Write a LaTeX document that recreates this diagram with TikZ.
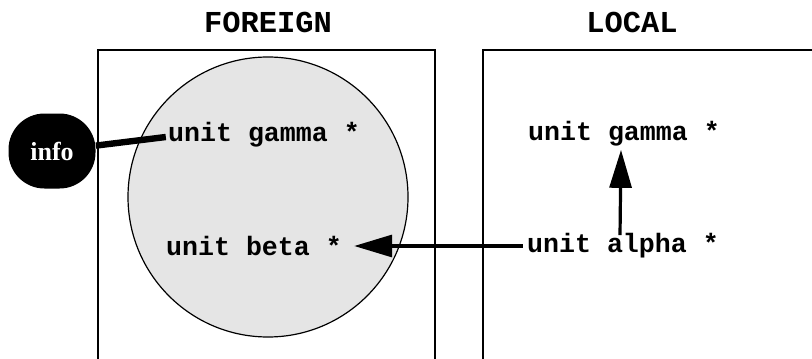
\documentclass[tikz,border=0pt]{standalone}
\usepackage{fontspec}
\setmonofont{Liberation Mono}
\newfontfamily\infofont{Liberation Serif}
\usetikzlibrary{arrows.meta,shapes.geometric}
\tikzset{
  px/.style={x=0.5pt,y=-0.5pt},
  boxline/.style={line width=1pt},
  codetext/.style={font=\ttfamily\bfseries\fontsize{13.3}{15}\selectfont, inner sep=0pt},
  titletext/.style={font=\ttfamily\bfseries\fontsize{15.2}{18}\selectfont, inner sep=0pt},
  disc/.style={circle, draw, line width=0.6pt, fill=black!10, minimum size=140pt, inner sep=0pt},
  infonode/.style={rectangle, rounded corners=18pt, fill=black, text=white, minimum width=43.5pt, minimum height=37.5pt, inner sep=0pt, font=\infofont\bfseries\fontsize{13}{15}\selectfont},
  infolink/.style={line width=3.2pt},
  bigarrow/.style={line width=1.6pt, -{Triangle[length=19pt,width=11pt]}}
}
\begin{document}
\begin{tikzpicture}[px]
\useasboundingbox (0,0) rectangle (812,358);
% boxes
\draw[boxline] (98,362) -- (98,50) -- (435,50) -- (435,362);
\draw[boxline] (483,362) -- (483,50) -- (816,50);
% titles
\node[titletext] (foreign) at (268,22) {FOREIGN};
\node[titletext] (local) at (632,22) {LOCAL};
% disc
\node[disc] (circ) at (268,197) {};
% texts
\node[codetext] (lgamma) at (264,135) {unit gamma *};
\node[codetext] (beta) at (254,246) {unit beta *};
\node[codetext] (rgamma) at (624,134) {unit gamma *};
\node[codetext] (alpha) at (623,246) {unit alpha *};
% info
\node[infonode] (info) at (52,151) {info};
\draw[infolink] (info) -- ([xshift=-1pt,yshift=-1pt]lgamma.west);
% arrows
\draw[bigarrow] ([xshift=-2pt]alpha.west) -- ([xshift=6pt]beta.east);
\draw[bigarrow] ([xshift=-1.5pt,yshift=-1pt]alpha.north) -- ([xshift=-1.5pt,yshift=-1.5pt]rgamma.south);
\end{tikzpicture}
\end{document}
